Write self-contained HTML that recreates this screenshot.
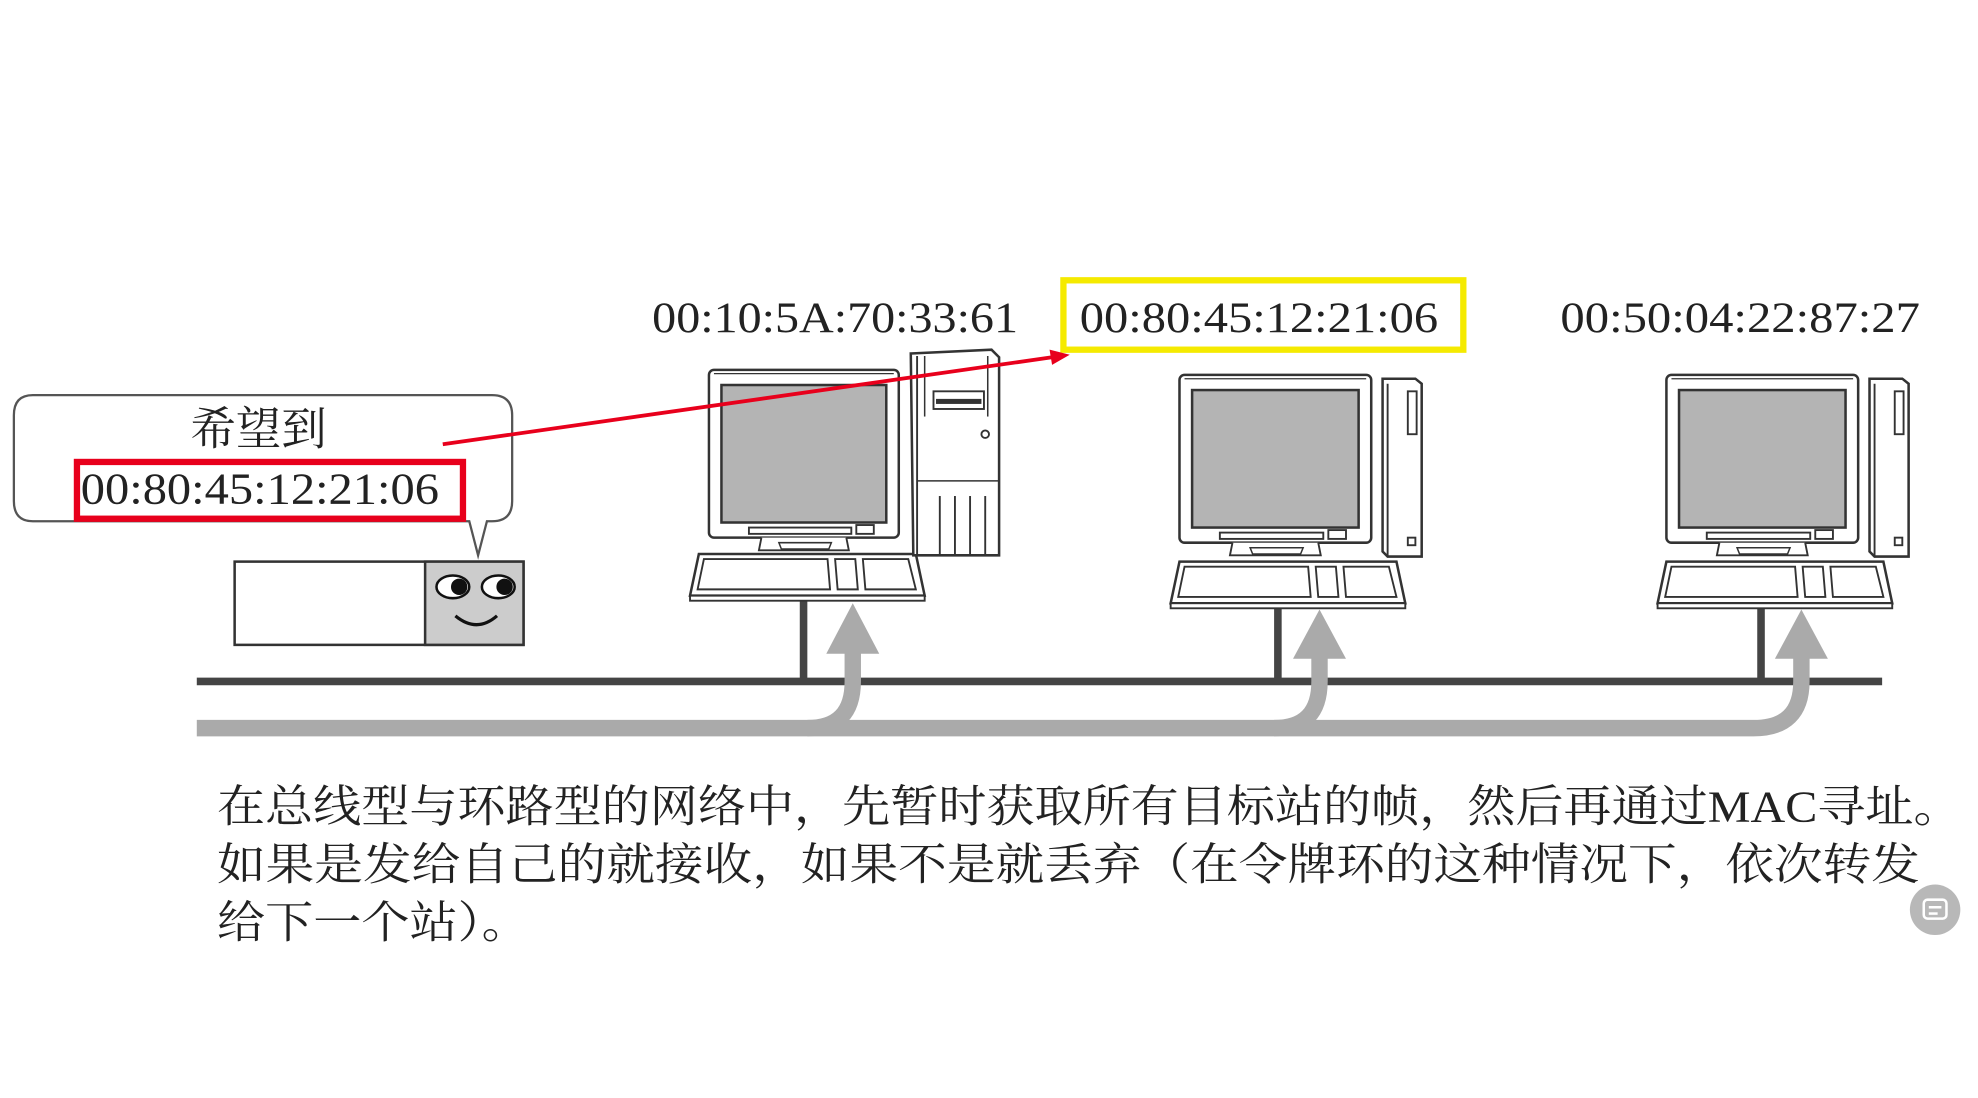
<!DOCTYPE html>
<html><head><meta charset="utf-8"><style>
html,body{margin:0;padding:0;background:#fff;width:1978px;height:1098px;overflow:hidden}
svg{display:block}
</style></head><body>
<svg width="1978" height="1098" viewBox="0 0 1568 870" xmlns="http://www.w3.org/2000/svg">
<defs>
<g id="mon">
  <rect x="0" y="0" width="152" height="133" rx="4" fill="#fff" stroke="#333" stroke-width="2"/>
  <line x1="4" y1="3" x2="148" y2="3" stroke="#333" stroke-width="1"/>
  <rect x="10" y="12" width="132" height="109" fill="#b4b4b4" stroke="#333" stroke-width="2"/>
  <rect x="32" y="125" width="82" height="5" fill="#fff" stroke="#333" stroke-width="1.5"/>
  <rect x="118" y="123" width="14" height="7" fill="#fff" stroke="#333" stroke-width="1.5"/>
  <path d="M42 133 L40 143 L112 143 L110 133" fill="#fff" stroke="#333" stroke-width="1.5"/>
  <path d="M56 137 L98 137 L96 142 L58 142 Z" fill="#fff" stroke="#333" stroke-width="1.2"/>
</g>
<g id="kb">
  <path d="M0 148 L172 148 L179 181 L-7 181 Z" fill="#fff" stroke="#333" stroke-width="2"/>
  <rect x="-7" y="181" width="186" height="4" fill="#fff" stroke="#333" stroke-width="1.5"/>
  <path d="M4 152 L102 152 L104 176 L-1 176 Z" fill="#fff" stroke="#333" stroke-width="1.5"/>
  <path d="M108 152 L124 152 L126 176 L110 176 Z" fill="#fff" stroke="#333" stroke-width="1.5"/>
  <path d="M130 152 L166 152 L172 176 L132 176 Z" fill="#fff" stroke="#333" stroke-width="1.5"/>
</g>
<g id="slim">
  <path d="M0 2 L26 2 L31 6 L31 143 L4 143 L0 139 Z" fill="#fff" stroke="#333" stroke-width="2"/>
  <line x1="4" y1="6" x2="4" y2="143" stroke="#333" stroke-width="1.5"/>
  <rect x="20" y="12" width="7" height="34" fill="#fff" stroke="#333" stroke-width="1.5"/>
  <rect x="20" y="128" width="6" height="6" fill="#fff" stroke="#333" stroke-width="1.5"/>
</g>
</defs>

<!-- MAC labels -->
<g font-family="Liberation Serif, serif" font-size="34" fill="#222">
<text x="517" y="263" textLength="290" lengthAdjust="spacingAndGlyphs">00:10:5A:70:33:61</text>
<text x="856" y="263" textLength="284" lengthAdjust="spacingAndGlyphs">00:80:45:12:21:06</text>
<text x="1237" y="263" textLength="285" lengthAdjust="spacingAndGlyphs">00:50:04:22:87:27</text>
</g>
<rect x="843" y="222" width="317" height="55" fill="none" stroke="#f5ea00" stroke-width="5"/>

<!-- bus -->
<line x1="156" y1="540" x2="1492" y2="540" stroke="#444" stroke-width="6"/>
<line x1="637" y1="472" x2="637" y2="540" stroke="#444" stroke-width="6"/>
<line x1="1013" y1="480" x2="1013" y2="540" stroke="#444" stroke-width="6"/>
<line x1="1396" y1="480" x2="1396" y2="540" stroke="#444" stroke-width="6"/>

<!-- computer 1 -->
<g transform="translate(562,293) scale(0.99,1)"><use href="#mon"/></g>
<g transform="translate(554,291)"><use href="#kb"/></g>
<g>
  <path d="M722 280 L786 277 L792 283 L792 440 L724 440 Z" fill="#fff" stroke="#333" stroke-width="2"/>
  <line x1="727" y1="282" x2="727" y2="440" stroke="#333" stroke-width="1.5"/>
  <line x1="727" y1="381" x2="792" y2="381" stroke="#333" stroke-width="1.2"/>
  <line x1="733" y1="282" x2="733" y2="330" stroke="#333" stroke-width="1.2"/>
  <line x1="783" y1="282" x2="783" y2="330" stroke="#333" stroke-width="1.2"/>
  <rect x="740" y="310" width="40" height="14" fill="#fff" stroke="#333" stroke-width="1.5"/>
  <rect x="742" y="316" width="36" height="4" fill="#333"/>
  <circle cx="781" cy="344" r="3" fill="#fff" stroke="#333" stroke-width="1.5"/>
  <g stroke="#333" stroke-width="1.5"><line x1="745" y1="393" x2="745" y2="440"/><line x1="757" y1="393" x2="757" y2="440"/><line x1="769" y1="393" x2="769" y2="440"/><line x1="781" y1="393" x2="781" y2="440"/></g>
</g>
<!-- computer 2 -->
<use href="#mon" x="935" y="297"/>
<use href="#kb" x="935" y="297"/>
<use href="#slim" x="1096" y="298"/>
<!-- computer 3 -->
<use href="#mon" x="1321" y="297"/>
<use href="#kb" x="1321" y="297"/>
<use href="#slim" x="1482" y="298"/>

<!-- gray flow arrows -->
<g fill="none" stroke="#aaa" stroke-width="13">
<path d="M156 577 L1390 577 Q1428 577 1428 540 L1428 510"/>
<path d="M640 577 Q676 577 676 540 L676 508"/>
<path d="M1010 577 Q1046 577 1046 540 L1046 512"/>
</g>
<g fill="#aaa">
<path d="M676 478 L697 518 L655 518 Z"/>
<path d="M1046 483 L1067 522 L1025 522 Z"/>
<path d="M1428 483 L1449 522 L1407 522 Z"/>
</g>

<!-- speech bubble -->
<path d="M26 313 L390 313 Q406 313 406 329 L406 397 Q406 413 390 413 L386 413 L379 440 L372 413 L26 413 Q11 413 11 397 L11 329 Q11 313 26 313 Z" fill="#fff" stroke="#555" stroke-width="1.8"/>
<text x="205" y="352" text-anchor="middle" font-family="Liberation Serif, 'Noto Serif CJK SC', serif" font-size="36" fill="#222">希望到</text>
<rect x="61" y="366" width="306" height="45" fill="none" stroke="#e8001c" stroke-width="5"/>
<text x="64" y="399" font-family="Liberation Serif, serif" font-size="35" fill="#222" textLength="284" lengthAdjust="spacingAndGlyphs">00:80:45:12:21:06</text>

<!-- host box -->
<rect x="186" y="445" width="229" height="66" fill="#fff" stroke="#333" stroke-width="2"/>
<rect x="337" y="445" width="78" height="66" fill="#ccc" stroke="#333" stroke-width="2"/>
<ellipse cx="359" cy="465" rx="13" ry="9" fill="#fff" stroke="#111" stroke-width="2"/>
<ellipse cx="395" cy="465" rx="13" ry="9" fill="#fff" stroke="#111" stroke-width="2"/>
<circle cx="364" cy="465" r="6.5" fill="#111"/>
<circle cx="400" cy="465" r="6.5" fill="#111"/>
<path d="M361 488 Q378 502 394 488" fill="none" stroke="#111" stroke-width="2.5"/>

<!-- red arrow -->
<line x1="351" y1="352" x2="834" y2="283" stroke="#e8001c" stroke-width="3"/>
<path d="M848 281 L832 277 L834 289 Z" fill="#e8001c"/>

<!-- caption -->
<g font-family="Liberation Serif, 'Noto Serif CJK SC', serif" font-size="35" fill="#222">
<text x="172" y="651" textLength="1383" lengthAdjust="spacingAndGlyphs">在总线型与环路型的网络中，先暂时获取所有目标站的帧，然后再通过MAC寻址。</text>
<text x="172" y="697" textLength="1350" lengthAdjust="spacingAndGlyphs">如果是发给自己的就接收，如果不是就丢弃（在令牌环的这种情况下，依次转发</text>
<text x="172" y="743" textLength="248" lengthAdjust="spacingAndGlyphs">给下一个站）。</text>
</g>

<!-- floating icon -->
<circle cx="1534" cy="721" r="20" fill="#b8b8b8"/>
<rect x="1525" y="713" width="18" height="15" rx="3" fill="none" stroke="#fff" stroke-width="2"/>
<line x1="1529" y1="719" x2="1539" y2="719" stroke="#fff" stroke-width="2"/>
<line x1="1529" y1="724" x2="1536" y2="724" stroke="#fff" stroke-width="2"/>
</svg>
</body></html>
